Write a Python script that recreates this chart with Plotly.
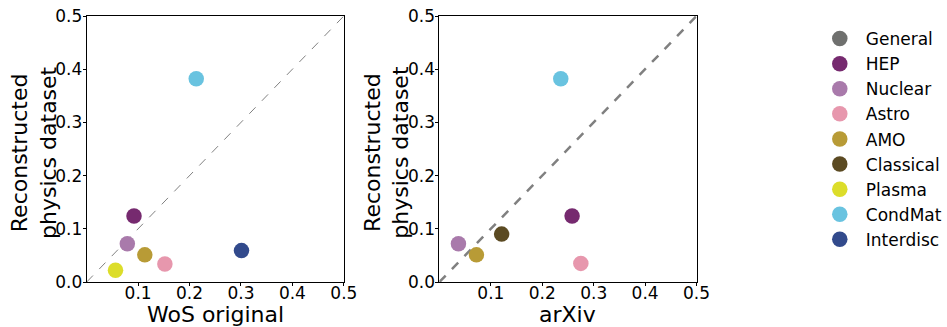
import plotly.graph_objects as go

categories = ["General", "HEP", "Nuclear", "Astro", "AMO", "Classical", "Plasma", "CondMat", "Interdisc"]
colors = ["#6f706e", "#762a6f", "#a97aab", "#e797ad", "#b89b36", "#5b4a22", "#dcdd2a", "#69c3e0", "#324a8c"]

# WoS original (x) vs reconstructed (y); None = not present
wos_x = [None, 0.092, 0.079, 0.152, 0.113, None, 0.056, 0.213, 0.301]
wos_y = [None, 0.124, 0.072, 0.034, 0.051, None, 0.022, 0.382, 0.059]
# arXiv (x) vs reconstructed (y)
arx_x = [None, 0.258, 0.037, 0.275, 0.072, 0.121, None, 0.236, None]
arx_y = [None, 0.124, 0.072, 0.035, 0.051, 0.090, None, 0.382, None]

diag = [0.0, 0.5]
ticks_x = [0.1, 0.2, 0.3, 0.4, 0.5]
ticks_y = [0.0, 0.1, 0.2, 0.3, 0.4, 0.5]

x_titles = ["WoS original", "arXiv"]
y_title = "Reconstructed<br>physics dataset"

FONT = "DejaVu Sans"
W, H = 947, 327
fig = go.Figure()

fig.add_trace(go.Scatter(x=diag, y=diag, mode="lines", showlegend=False, hoverinfo="skip",
                         line=dict(color="#808080", width=1, dash="dash"), xaxis="x", yaxis="y"))
fig.add_trace(go.Scatter(x=diag, y=diag, mode="lines", showlegend=False, hoverinfo="skip",
                         line=dict(color="#808080", width=2.5, dash="dash"), xaxis="x2", yaxis="y2"))

for i, cat in enumerate(categories):
    fig.add_trace(go.Scatter(x=[wos_x[i]], y=[wos_y[i]], mode="markers", name=cat, legendgroup=cat,
                             showlegend=True, marker=dict(color=colors[i], size=15.5),
                             xaxis="x", yaxis="y"))
    fig.add_trace(go.Scatter(x=[arx_x[i]], y=[arx_y[i]], mode="markers", name=cat, legendgroup=cat,
                             showlegend=False, marker=dict(color=colors[i], size=15.5),
                             xaxis="x2", yaxis="y2"))

axis_common = dict(range=[0, 0.5], showgrid=False, zeroline=False, showline=True, linecolor="black",
                   linewidth=1, mirror=True, ticks="outside", ticklen=3, tickcolor="black",
                   automargin=False,
                   tickfont=dict(family=FONT, size=17, color="black"))

ydom = [1 - 282 / H, 1 - 16 / H]
fig.update_layout(
    width=W, height=H,
    margin=dict(l=0, r=0, t=0, b=0),
    paper_bgcolor="white", plot_bgcolor="white",
    font=dict(family=FONT, color="black"),
    xaxis=dict(domain=[88 / W, 349 / W], tickvals=ticks_x, ticktext=[f"{v:.1f}" for v in ticks_x],
               ticklabelstandoff=-7, anchor="y", **axis_common),
    yaxis=dict(domain=ydom, tickvals=ticks_y, ticktext=[f"{v:.1f}" for v in ticks_y],
               ticklabelstandoff=-3, anchor="x", **axis_common),
    xaxis2=dict(domain=[446 / W, 707 / W], tickvals=ticks_x, ticktext=[f"{v:.1f}" for v in ticks_x],
                ticklabelstandoff=-7, anchor="y2", **axis_common),
    yaxis2=dict(domain=ydom, tickvals=ticks_y, ticktext=[f"{v:.1f}" for v in ticks_y],
                ticklabelstandoff=-3, anchor="x2", **axis_common),
    legend=dict(x=826 / W, y=1 - 21 / H, xanchor="left", yanchor="top",
                font=dict(family=FONT, size=17, color="black"), bgcolor="rgba(0,0,0,0)",
                itemwidth=42, tracegroupgap=0),
)

# axis titles
for cx, txt in [((88 + 349) / 2, x_titles[0]), ((446 + 707) / 2, x_titles[1])]:
    fig.add_annotation(x=cx / W, y=1 - 314 / H, xref="paper", yref="paper", text=txt,
                       showarrow=False, xanchor="center", yanchor="middle",
                       font=dict(family=FONT, size=22, color="black"))
for cx in [34.5, 392.5]:
    fig.add_annotation(x=cx / W, y=1 - 152 / H, xref="paper", yref="paper", text=y_title,
                       showarrow=False, xanchor="center", yanchor="middle", textangle=-90,
                       font=dict(family=FONT, size=22, color="black"))

fig.write_html("out.html")
